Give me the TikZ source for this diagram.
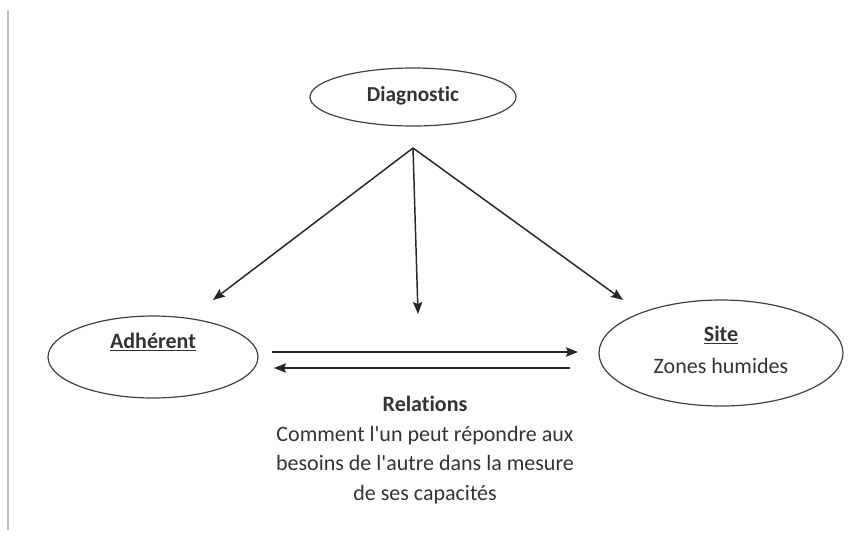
\documentclass[tikz,border=0pt]{standalone}
\usepackage{fontspec}
\setmainfont{Carlito}[Ligatures=NoCommon]
\usetikzlibrary{shapes.geometric,arrows.meta}
\begin{document}
\begin{tikzpicture}[x=0.75pt,y=-0.75pt,
  oval/.style={draw=black!75, line width=0.9pt},
  arr/.style={draw=black!85, line width=1.1pt, -{Stealth[length=9pt,width=7pt,inset=1.5pt]}},
  lbl/.style={font=\fontsize{16.5}{24}\selectfont, text=black!80, align=center}]
\useasboundingbox (0,0) rectangle (868,537);
\draw[black!25, line width=1pt] (8,10) -- (8,530);
\draw[oval] (413,97) ellipse [x radius=103, y radius=29];
\node[lbl, font=\fontsize{16}{22}\selectfont\bfseries] (diag) at (413,96) {Diagnostic};
\draw[oval] (153,357) ellipse [x radius=105, y radius=41];
\node[lbl, font=\fontsize{16.5}{24}\selectfont\bfseries] (adh) at (153,342) {\underline{Adhérent}};
\draw[oval] (721,353) ellipse [x radius=122, y radius=53];
\node[lbl] (site) at (721,350) {\textbf{\underline{Site}}\\Zones humides};
\coordinate (top) at (413,148);
\coordinate (la) at (213,300);
\coordinate (ma) at (418,314);
\coordinate (ra) at (623,300);
\draw[arr] (top) -- (la);
\draw[arr] (top) -- (ma);
\draw[arr] (top) -- (ra);
\coordinate (h1s) at (272,352);
\coordinate (h1e) at (578,352);
\coordinate (h2s) at (570,368);
\coordinate (h2e) at (274,368);
\draw[arr] (h1s) -- (h1e);
\draw[arr] (h2s) -- (h2e);
\node[lbl, font=\fontsize{16.5}{22.2}\selectfont] (rel) at (425,450) {\textbf{Relations}\\Comment l\textquotesingle un peut répondre aux\\besoins de l\textquotesingle autre dans la mesure\\de ses capacités};
\end{tikzpicture}
\end{document}
